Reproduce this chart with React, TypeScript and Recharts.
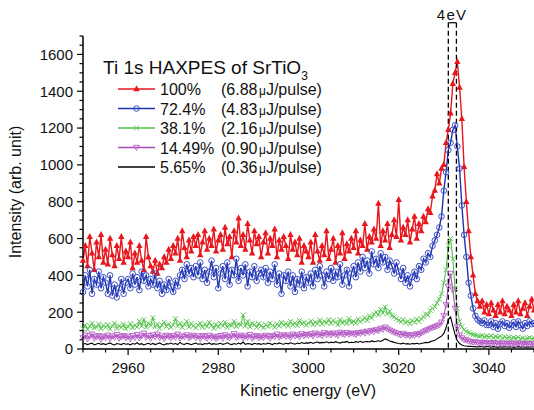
import { LineChart, Line, XAxis, YAxis, ReferenceLine } from "recharts";

// energy grid of the scan (eV)
const energyStart = 2950;
const energyStep = 0.5;

// Intensities, one value per 0.5 eV from 2950 to 3050
const pct100 = [
  480, 560, 450, 610, 520, 430, 580, 500, 620, 470,
  540, 460, 600, 510, 450, 560, 490, 610, 470, 530,
  500, 580, 440, 520, 470, 560, 480, 430, 610, 500,
  450, 420, 480, 410, 460, 440, 500, 470, 540, 490,
  560, 520, 600, 480, 640, 550, 500, 590, 530, 610,
  560, 620, 510, 580, 640, 540, 600, 560, 650, 530,
  590, 620, 540, 660, 570, 610, 500, 640, 580, 710,
  560, 620, 540, 680, 590, 520, 640, 570, 610, 500,
  580, 630, 520, 600, 560, 650, 500, 590, 540, 610,
  560, 490, 620, 540, 580, 510, 600, 470, 560, 530,
  500, 580, 470, 620, 530, 480, 560, 510, 640, 490,
  540, 600, 470, 560, 520, 630, 490, 570, 530, 600,
  550, 640, 520, 590, 560, 680, 540, 610, 580, 650,
  600, 790, 560, 640, 590, 680, 550, 620, 700, 610,
  810, 590, 660, 620, 700, 580, 650, 720, 600, 680,
  640, 720, 690, 760, 740, 830, 860, 950, 900, 980,
  1000, 1120, 1190, 1280, 1440, 1500, 1560, 1420, 1250, 990,
  800, 640, 500, 400, 300, 260, 230, 260, 200, 240,
  190, 250, 210, 180, 240, 200, 260, 190, 230, 210,
  180, 240, 200, 260, 190, 220, 250, 180, 230, 270,
  210,
];

const pct72 = [
  310, 400, 340, 430, 300, 380, 350, 420, 330, 390,
  360, 300, 400, 290, 350, 280, 330, 380, 300, 360,
  380, 330, 410, 350, 390, 320, 420, 370, 400, 340,
  380, 350, 410, 330, 370, 300, 350, 320, 380, 340,
  310, 370, 340, 400, 430, 380, 460, 410, 440, 390,
  450, 400, 470, 380, 430, 360, 420, 480, 390, 440,
  330, 410, 450, 380, 470, 350, 430, 400, 490, 370,
  440, 400, 460, 340, 420, 390, 450, 370, 410, 430,
  390, 440, 360, 420, 380, 460, 350, 410, 300, 400,
  370, 420, 340, 400, 310, 380, 350, 420, 330, 390,
  360, 410, 340, 430, 380, 450, 400, 340, 420, 380,
  440, 370, 420, 390, 460, 350, 400, 430, 340, 410,
  450, 390, 470, 420, 500, 440, 480, 410, 530, 460,
  490, 440, 520, 470, 500, 430, 480, 450, 410, 470,
  420, 380, 440, 360, 400, 340, 390, 420, 380, 450,
  430, 490, 470, 520, 500, 560, 590, 620, 660, 720,
  860, 960, 1080, 1120, 1190, 1215, 1100, 980, 780, 620,
  500, 360, 290, 220, 180, 160, 150, 140, 155, 130,
  130, 150, 120, 140, 110, 135, 150, 125, 140, 115,
  130, 145, 120, 150, 130, 110, 140, 125, 150, 135,
  140,
];

const pct38 = [
  110, 130, 105, 125, 140, 115, 120, 135, 110, 128,
  118, 132, 108, 125, 140, 112, 126, 118, 135, 110,
  122, 138, 115, 130, 120, 150, 125, 160, 118, 140,
  128, 170, 120, 135, 112, 130, 145, 122, 136, 118,
  130, 165, 125, 140, 118, 132, 150, 120, 138, 126,
  115, 130, 140, 118, 135, 122, 145, 128, 112, 134,
  120, 138, 126, 145, 118, 132, 128, 150, 122, 136,
  130, 185, 125, 150, 120, 140, 132, 118, 138, 126,
  115, 132, 122, 140, 128, 118, 136, 125, 145, 130,
  138, 124, 150, 132, 142, 128, 155, 136, 145, 130,
  140, 152, 132, 146, 138, 158, 135, 150, 142, 160,
  138, 155, 145, 132, 160, 142, 150, 138, 165, 145,
  150, 140, 162, 148, 158, 170, 155, 180, 168, 190,
  200, 185, 215, 195, 228, 190, 205, 180, 175, 165,
  155, 148, 160, 142, 150, 138, 155, 145, 162, 150,
  165, 175, 190, 185, 210, 220, 230, 250, 270, 300,
  360, 430, 560, 600, 490, 330, 220, 150, 120, 105,
  95, 88, 82, 78, 75, 72, 70, 74, 66, 70,
  65, 72, 60, 68, 62, 70, 58, 66, 60, 64,
  56, 62, 58, 65, 55, 60, 52, 58, 62, 55,
  58,
];

const pct14 = [
  60, 75, 55, 70, 80, 58, 66, 72, 52, 68,
  62, 74, 56, 70, 64, 78, 58, 66, 72, 60,
  68, 55, 72, 62, 78, 60, 70, 85, 64, 72,
  58, 76, 66, 80, 62, 70, 56, 74, 68, 60,
  72, 64, 80, 58, 70, 66, 76, 60, 68, 74,
  62, 70, 56, 72, 66, 58, 74, 62, 68, 56,
  64, 72, 58, 76, 66, 60, 70, 82, 62, 68,
  74, 60, 70, 64, 78, 58, 66, 72, 60, 68,
  62, 74, 68, 58, 72, 66, 80, 64, 70, 76,
  68, 74, 62, 80, 70, 76, 66, 82, 72, 78,
  74, 82, 70, 86, 76, 80, 72, 88, 78, 84,
  76, 86, 80, 74, 90, 82, 78, 88, 80, 86,
  82, 78, 88, 84, 92, 86, 96, 90, 100, 94,
  104, 98, 112, 106, 118, 108, 102, 96, 90, 86,
  80, 76, 84, 72, 78, 70, 76, 74, 82, 78,
  86, 92, 100, 104, 110, 115, 120, 125, 130, 145,
  180, 240, 340, 410, 320, 220, 120, 75, 60, 50,
  48, 42, 40, 36, 38, 34, 32, 36, 30, 34,
  32, 28, 34, 30, 26, 32, 28, 30, 26, 32,
  28, 30, 25, 32, 27, 29, 24, 30, 26, 28,
  27,
];

const pct5 = [
  26, 30, 24, 28, 32, 22, 27, 31, 25, 29,
  24, 28, 33, 26, 22, 30, 27, 24, 31, 26,
  28, 23, 30, 26, 34, 25, 29, 22, 27, 31,
  25, 30, 24, 28, 33, 26, 22, 29, 27, 32,
  26, 30, 24, 36, 27, 25, 31, 28, 23, 29,
  32, 26, 28, 24, 30, 27, 33, 25, 29, 26,
  28, 31, 25, 29, 34, 27, 24, 30, 26, 32,
  27, 38, 25, 30, 28, 24, 31, 27, 29, 25,
  30, 26, 32, 28, 24, 31, 27, 33, 29, 26,
  31, 28, 34, 30, 26, 32, 29, 35, 30, 33,
  32, 36, 30, 35, 38, 32, 36, 34, 39, 33,
  37, 34, 40, 35, 32, 38, 36, 41, 34, 37,
  35, 40, 37, 42, 36, 39, 41, 38, 44, 40,
  42, 45, 41, 48, 55, 50, 44, 40, 36, 33,
  30, 28, 32, 27, 29, 26, 30, 28, 31, 27,
  30, 33, 36, 34, 40, 44, 48, 55, 62, 70,
  85, 115, 160, 174, 125, 78, 45, 30, 22, 18,
  16, 14, 15, 12, 13, 11, 14, 12, 10, 13,
  12, 10, 13, 11, 9, 12, 10, 13, 11, 10,
  12, 9, 11, 13, 10, 12, 9, 11, 10, 12,
  11,
];

const xTicks = [
  2950, 2955, 2960, 2965, 2970, 2975, 2980, 2985, 2990, 2995, 3000,
  3005, 3010, 3015, 3020, 3025, 3030, 3035, 3040, 3045, 3050,
];
const xLabels = [2960, 2980, 3000, 3020, 3040];
const yTicks = [
  0, 50, 100, 150, 200, 250, 300, 350, 400, 450, 500, 550, 600, 650, 700,
  750, 800, 850, 900, 950, 1000, 1050, 1100, 1150, 1200, 1250, 1300, 1350,
  1400, 1450, 1500, 1550, 1600, 1650, 1700,
];
const yLabels = [0, 200, 400, 600, 800, 1000, 1200, 1400, 1600];

// the two dashed markers of the "4eV" bracket
const markerEnergies = [3031, 3032.8];
const bracketTop = 1772;

const series = [
  { key: "p100", values: pct100, pct: "100%", energy: "6.88", color: "#e8161d", line: "#e8161d", mark: "tri" },
  { key: "p72", values: pct72, pct: "72.4%", energy: "4.83", color: "#3d4fc4", line: "#1f35b0", mark: "circle" },
  { key: "p38", values: pct38, pct: "38.1%", energy: "2.16", color: "#62c95a", line: "#55c24c", mark: "cross" },
  { key: "p14", values: pct14, pct: "14.49%", energy: "0.90", color: "#b65cc6", line: "#a84cb8", mark: "down" },
  { key: "p5", values: pct5, pct: "5.65%", energy: "0.36", color: "#000000", line: "#000000", mark: "none" },
];

const data = pct100.map((_, i) => {
  const row: Record<string, number> = { e: energyStart + i * energyStep };
  series.forEach((s) => (row[s.key] = s.values[i]));
  return row;
});

function marker(kind: string, cx: number, cy: number, color: string, key?: number) {
  if (kind === "tri")
    return (
      <polygon key={key} points={`${cx},${cy - 3.8} ${cx - 3.2},${cy + 2.2} ${cx + 3.2},${cy + 2.2}`} fill={color} />
    );
  if (kind === "circle")
    return <circle key={key} cx={cx} cy={cy} r={2.8} fill="none" stroke={color} strokeWidth={1} />;
  if (kind === "cross")
    return (
      <path key={key} d={`M${cx - 2.5},${cy - 2.5}L${cx + 2.5},${cy + 2.5}M${cx - 2.5},${cy + 2.5}L${cx + 2.5},${cy - 2.5}`} stroke={color} strokeWidth={1} />
    );
  if (kind === "down")
    return (
      <polygon key={key} points={`${cx - 3},${cy - 2.2} ${cx + 3},${cy - 2.2} ${cx},${cy + 3}`} fill="none" stroke={color} strokeWidth={0.9} />
    );
  return <g key={key} />;
}

const dotFor = (kind: string, color: string) => (p: any) => {
  if (p.cx == null || p.cy == null) return <g key={p.index} />;
  return marker(kind, p.cx, p.cy, color, p.index);
};

const BottomTick = ({ x, y, payload }: any) => {
  const major = xLabels.includes(payload.value);
  return (
    <g>
      <line x1={x} x2={x} y1={y} y2={y + (major ? 6 : 3.5)} stroke="#000" strokeWidth={1.2} />
      {major && (
        <text x={x} y={y + 24} textAnchor="middle" fontSize={15} fill="#111">
          {payload.value}
        </text>
      )}
    </g>
  );
};

const TopTick = ({ x, y, payload }: any) => {
  const major = xLabels.includes(payload.value);
  return <line x1={x} x2={x} y1={y} y2={y + (major ? 6 : 3.5)} stroke="#000" strokeWidth={1.2} />;
};

const LeftTick = ({ x, y, payload }: any) => {
  const major = yLabels.includes(payload.value);
  return (
    <g>
      <line x1={x - (major ? 6 : 3.5)} x2={x} y1={y} y2={y} stroke="#000" strokeWidth={1.2} />
      {major && (
        <text x={x - 10} y={y} dy="0.36em" textAnchor="end" fontSize={15} fill="#111">
          {payload.value}
        </text>
      )}
    </g>
  );
};

const RightTick = ({ x, y, payload }: any) => {
  const major = yLabels.includes(payload.value);
  return <line x1={x - (major ? 6 : 3.5)} x2={x} y1={y} y2={y} stroke="#000" strokeWidth={1.2} />;
};

const rowY = [89, 108.5, 128, 147.5, 167];

export default function App() {
  return (
    <div style={{ position: "relative", width: 534, height: 410, fontFamily: "'Liberation Sans', Arial, sans-serif", background: "#fff" }}>
      <style>{`body{margin:0}`}</style>
      <LineChart width={534} height={410} data={data} margin={{ top: 36, right: 0, bottom: 0, left: 0 }}>
        <XAxis
          dataKey="e"
          type="number"
          domain={[2950, 3050]}
          ticks={xTicks}
          interval={0}
          height={61}
          tickSize={0}
          tickMargin={0}
          tickLine={false}
          tick={<BottomTick />}
          axisLine={{ stroke: "#000", strokeWidth: 1.5 }}
        />
        <XAxis
          xAxisId="top"
          orientation="top"
          dataKey="e"
          type="number"
          domain={[2950, 3050]}
          ticks={xTicks}
          interval={0}
          height={0}
          tickSize={0}
          tickMargin={0}
          tickLine={false}
          tick={<TopTick />}
          axisLine={{ stroke: "#000", strokeWidth: 1.5 }}
        />
        <YAxis
          type="number"
          domain={[0, 1700]}
          ticks={yTicks}
          interval={0}
          width={83}
          tickSize={0}
          tickMargin={0}
          tickLine={false}
          tick={<LeftTick />}
          axisLine={{ stroke: "#000", strokeWidth: 1.5 }}
        />
        <YAxis
          yAxisId="right"
          orientation="right"
          type="number"
          domain={[0, 1700]}
          ticks={yTicks}
          interval={0}
          width={0}
          tickSize={0}
          tickMargin={0}
          tickLine={false}
          tick={<RightTick />}
          axisLine={false}
        />
        {series.map((s) => (
          <Line
            key={s.key}
            dataKey={s.key}
            type="linear"
            stroke={s.line}
            strokeWidth={s.key === "p100" || s.key === "p72" ? 1.4 : 1.1}
            dot={dotFor(s.mark, s.color)}
            activeDot={false}
            isAnimationActive={false}
          />
        ))}
        {markerEnergies.map((m) => (
          <ReferenceLine
            key={m}
            segment={[{ x: m, y: bracketTop }, { x: m, y: 0 }]}
            stroke="#000"
            strokeWidth={1.3}
            strokeDasharray="5 3"
            ifOverflow="visible"
          />
        ))}
        <ReferenceLine
          segment={[{ x: markerEnergies[0], y: bracketTop }, { x: markerEnergies[1], y: bracketTop }]}
          stroke="#000"
          strokeWidth={1.2}
          ifOverflow="visible"
        />
      </LineChart>
      <svg width={534} height={410} style={{ position: "absolute", left: 0, top: 0, pointerEvents: "none" }}>
        <text x={452} y={19.5} textAnchor="middle" fontSize={15} letterSpacing={1.2} fill="#111">
          4eV
        </text>
        <text transform="translate(21,192) rotate(-90)" textAnchor="middle" fontSize={16} fill="#111">
          Intensity (arb. unit)
        </text>
        <text x={308} y={396} textAnchor="middle" fontSize={16} fill="#111">
          Kinetic energy (eV)
        </text>
        <text x={103} y={73.5} fontSize={19} fill="#111">
          Ti 1s HAXPES of SrTiO
          <tspan fontSize={12} dy={6}>3</tspan>
        </text>
        {series.map((s, i) => (
          <g key={s.key}>
            <line x1={118} x2={155} y1={rowY[i]} y2={rowY[i]} stroke={s.line} strokeWidth={1.4} />
            {marker(s.mark, 136.5, rowY[i], s.color)}
            <text x={160} y={rowY[i] + 6} fontSize={16} fill="#111">
              {s.pct}
            </text>
            <text x={221} y={rowY[i] + 6} fontSize={16} fill="#111">
              ({s.energy}
              <tspan fontSize={12} dx={1.5}>μ</tspan>
              <tspan>J/pulse)</tspan>
            </text>
          </g>
        ))}
      </svg>
    </div>
  );
}
